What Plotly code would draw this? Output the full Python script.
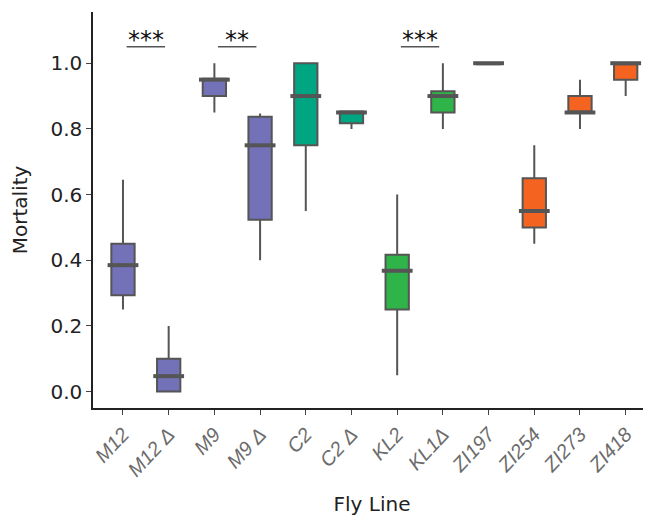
import plotly.graph_objects as go

categories = ["M12", "M12 Δ", "M9", "M9 Δ", "C2", "C2 Δ", "KL2", "KL1Δ", "ZI197", "ZI254", "ZI273", "ZI418"]
lower = [0.25, 0.0, 0.85, 0.40, 0.55, 0.80, 0.05, 0.80, 1.0, 0.45, 0.80, 0.90]
q1 = [0.293, 0.0, 0.90, 0.523, 0.75, 0.817, 0.25, 0.85, 0.997, 0.50, 0.85, 0.95]
median = [0.385, 0.047, 0.95, 0.75, 0.90, 0.85, 0.368, 0.90, 1.0, 0.55, 0.85, 1.0]
q3 = [0.45, 0.10, 0.953, 0.837, 1.0, 0.853, 0.417, 0.915, 1.0, 0.65, 0.90, 1.0]
upper = [0.645, 0.20, 1.0, 0.847, 1.0, 0.853, 0.60, 1.0, 1.0, 0.75, 0.95, 1.0]
colors = ["#7371b8", "#7371b8", "#7371b8", "#7371b8", "#00a681", "#00a681",
          "#2fb44a", "#2fb44a", "#f46420", "#f46420", "#f46420", "#f46420"]

sig_pairs = [("M12", "M12 Δ", "***"), ("M9", "M9 Δ", "**"), ("KL2", "KL1Δ", "***")]
sig_y = 1.05

BOX_W = 0.51

fig = go.Figure()
for i, c in enumerate(categories):
    fig.add_trace(go.Box(
        x=[c], q1=[q1[i]], median=[median[i]], q3=[q3[i]],
        lowerfence=[lower[i]], upperfence=[upper[i]],
        fillcolor=colors[i], line=dict(color="#555555", width=2),
        whiskerwidth=0, width=BOX_W, boxpoints=False, showlegend=False,
        hoverinfo="skip"))

# thicker median lines
fig.add_trace(go.Scatter(
    x=categories, y=median, mode="markers",
    marker=dict(symbol="line-ew", size=22, line=dict(color="#555555", width=4)),
    showlegend=False, hoverinfo="skip"))

for a, b, s in sig_pairs:
    ia, ib = categories.index(a), categories.index(b)
    mid = (ia + ib) / 2
    fig.add_shape(type="line", xref="x", yref="y",
                  x0=mid - 0.42, x1=mid + 0.42, y0=sig_y, y1=sig_y,
                  line=dict(color="#555555", width=1.5))
    fig.add_annotation(x=mid, y=sig_y, text=s, showarrow=False,
                       yanchor="bottom", yshift=-9,
                       font=dict(size=24, color="#111111", family="DejaVu Sans"))

# the page body adds an 8px margin, so the figure is 8px smaller and shifted
fig.update_layout(
    width=643, height=508,
    margin=dict(l=85, r=0, t=4, b=108),
    plot_bgcolor="white", paper_bgcolor="white",
    font=dict(family="DejaVu Sans", color="#222222"),
)
fig.update_xaxes(
    type="category", categoryorder="array", categoryarray=categories,
    range=[-0.656, 11.554], automargin=False,
    showline=True, linecolor="#222222", linewidth=1.5,
    ticks="outside", ticklen=5, tickcolor="#444444", tickwidth=1.2,
    tickangle=-47,
    tickfont=dict(size=20, color="#6b6b6b", family="Liberation Sans", style="italic"),
    title=dict(text="Fly Line", font=dict(size=20, color="#222222"), standoff=24),
    showgrid=False, zeroline=False,
)
fig.update_yaxes(
    range=[-0.05, 1.156], automargin=False,
    tickvals=[0.0, 0.2, 0.4, 0.6, 0.8, 1.0],
    ticktext=["0.0", "0.2", "0.4", "0.6", "0.8", "1.0"],
    showline=True, linecolor="#222222", linewidth=1.5,
    ticks="outside", ticklen=5, tickcolor="#444444", tickwidth=1.2,
    tickfont=dict(size=20, color="#222222"),
    title=dict(text="Mortality", font=dict(size=20, color="#222222"), standoff=24),
    showgrid=False, zeroline=False,
)

fig.write_html("out.html")
